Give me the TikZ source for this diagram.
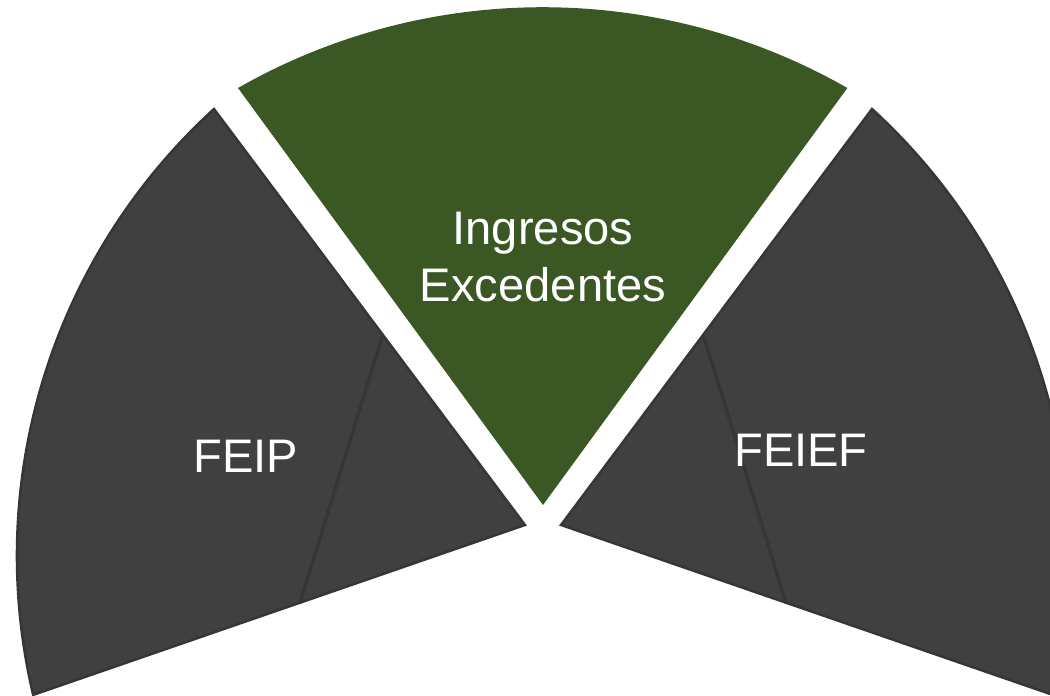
\documentclass[tikz,border=0pt]{standalone}
\usepackage{fontspec}
\setmainfont{Liberation Sans}
\definecolor{segGreen}{HTML}{3A5724}
\definecolor{segGray}{HTML}{404040}
\definecolor{segEdge}{HTML}{363636}
\begin{document}
\begin{tikzpicture}
  [seg/.style={fill=segGray, draw=segEdge, line width=0.7pt},
   crease/.style={draw=segEdge, line width=1pt},
   segtext/.style={text=white, align=center, inner sep=0pt,
     font=\fontsize{13.4}{16.2}\selectfont}]
  % Frame of the picture
  \useasboundingbox (0,0) rectangle (10.5,6.96);
  \clip (0,0) rectangle (10.5,6.96);
  % Setup constants
  \def\midx{5.43}
  \def\grayrad{6.05}
  % Middle segment
  \fill[segGreen] (\midx,1.91) -- (2.38,6.08)
    arc [start angle=119.7, end angle=60.3, radius=6.15] -- cycle;
  % Side segments, the right one mirrored from the left one
  \foreach \mir in {1, -1} {
    \begin{scope}[xshift=\midx cm, xscale=\mir]
      \draw[seg] (-0.18,1.71) -- (-3.29,5.87)
        arc [start angle=132.4, end angle=193.3, radius=\grayrad] -- cycle;
      \draw[crease] (-1.61,3.59) -- (-2.43,0.93);
    \end{scope}
  }
  % Labels
  \node[segtext] (ingresos) at (\midx,4.39) {Ingresos\\Excedentes};
  \node[segtext] (feip) at (2.46,2.40) {FEIP};
  \node[segtext] (feief) at (8.01,2.46) {FEIEF};
\end{tikzpicture}
\end{document}
